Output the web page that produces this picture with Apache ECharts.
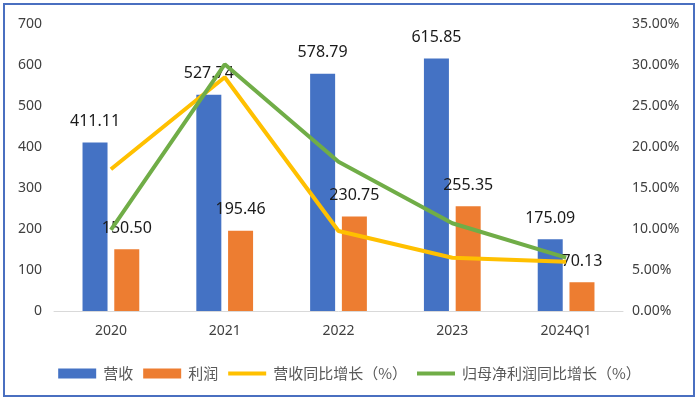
<!DOCTYPE html>
<html>
<head>
<meta charset="utf-8">
<script src="https://cdn.jsdelivr.net/npm/echarts@6/dist/echarts.min.js"></script>
<style>
html,body{margin:0;padding:0;background:#fff;}
#main{width:699px;height:401px;}
</style>
</head>
<body>
<div id="main"></div>
<script>
var categories = ['2020', '2021', '2022', '2023', '2024Q1'];
var revenue = [411.11, 527.74, 578.79, 615.85, 175.09];
var profit = [150.50, 195.46, 230.75, 255.35, 70.13];
var revenueGrowth = [0.1728, 0.285, 0.0976, 0.065, 0.060];
var netProfitGrowth = [0.0988, 0.3009, 0.182, 0.107, 0.065];
var leftTicks = [0, 100, 200, 300, 400, 500, 600, 700];
var seriesNames = ['营收', '利润', '营收同比增长（%）', '归母净利润同比增长（%）'];

var FONT = "'Noto Sans', 'Noto Sans CJK SC', sans-serif";
var LINE_ICON = 'path://M0,3L40,3L40,7L0,7Z M0,0L0.01,0 M0,10L0.01,10';
var chart = echarts.init(document.getElementById('main'), null, {renderer: 'canvas'});
var option = {
  backgroundColor: '#ffffff',
  textStyle: {fontFamily: FONT},
  animation: false,
  graphic: [{
    type: 'rect',
    shape: {x: 4, y: 4, width: 690, height: 392},
    style: {fill: 'none', stroke: '#4a6fc0', lineWidth: 2},
    z: 100
  }],
  grid: {left: 54, right: 76, top: 24, bottom: 90},
  legend: {
    top: 361,
    left: 'center',
    itemWidth: 38,
    itemHeight: 10,
    itemGap: 10,
    textStyle: {fontSize: 15, color: '#595959', padding: [0, 0, 0, 2], fontFamily: "'Noto Sans CJK SC', sans-serif"},
    data: [
      {name: seriesNames[0], icon: 'rect'},
      {name: seriesNames[1], icon: 'rect'},
      {name: seriesNames[2], icon: LINE_ICON, itemStyle: {color: '#FFC000'}},
      {name: seriesNames[3], icon: LINE_ICON, itemStyle: {color: '#70AD47'}}
    ]
  },
  xAxis: {
    type: 'category',
    data: categories,
    axisLine: {lineStyle: {color: '#d9d9d9', width: 1}},
    axisTick: {show: false},
    axisLabel: {fontSize: 14, color: '#404040', margin: 13}
  },
  yAxis: [{
    type: 'value',
    min: leftTicks[0],
    max: leftTicks[leftTicks.length - 1],
    interval: 100,
    splitLine: {show: false},
    axisLine: {show: false},
    axisTick: {show: false},
    axisLabel: {fontSize: 14, color: '#404040', margin: 12}
  }, {
    type: 'value',
    min: 0,
    max: 0.35,
    interval: 0.05,
    splitLine: {show: false},
    axisLine: {show: false},
    axisTick: {show: false},
    axisLabel: {
      fontSize: 14, color: '#404040', margin: 9,
      formatter: function (v) { return (v * 100).toFixed(2) + '%'; }
    }
  }],
  series: [{
    name: seriesNames[0],
    type: 'bar',
    data: revenue,
    barWidth: 25,
    barGap: '27%',
    itemStyle: {color: '#4472C4'},
    label: {show: true, position: 'top', distance: 13, fontSize: 16, color: '#1a1a1a',
      formatter: function (p) { return p.value.toFixed(2); }}
  }, {
    name: seriesNames[1],
    type: 'bar',
    data: profit,
    barWidth: 25,
    itemStyle: {color: '#ED7D31'},
    label: {show: true, position: 'top', distance: 13, fontSize: 16, color: '#1a1a1a',
      formatter: function (p) { return p.value.toFixed(2); }}
  }, {
    name: seriesNames[2],
    type: 'line',
    yAxisIndex: 1,
    data: revenueGrowth,
    symbol: 'none',
    lineStyle: {color: '#FFC000', width: 4},
    itemStyle: {color: '#FFC000'},
    z: 5
  }, {
    name: seriesNames[3],
    type: 'line',
    yAxisIndex: 1,
    data: netProfitGrowth,
    symbol: 'none',
    lineStyle: {color: '#70AD47', width: 4},
    itemStyle: {color: '#70AD47'},
    z: 5
  }]
};
chart.setOption(option);
</script>
</body>
</html>
